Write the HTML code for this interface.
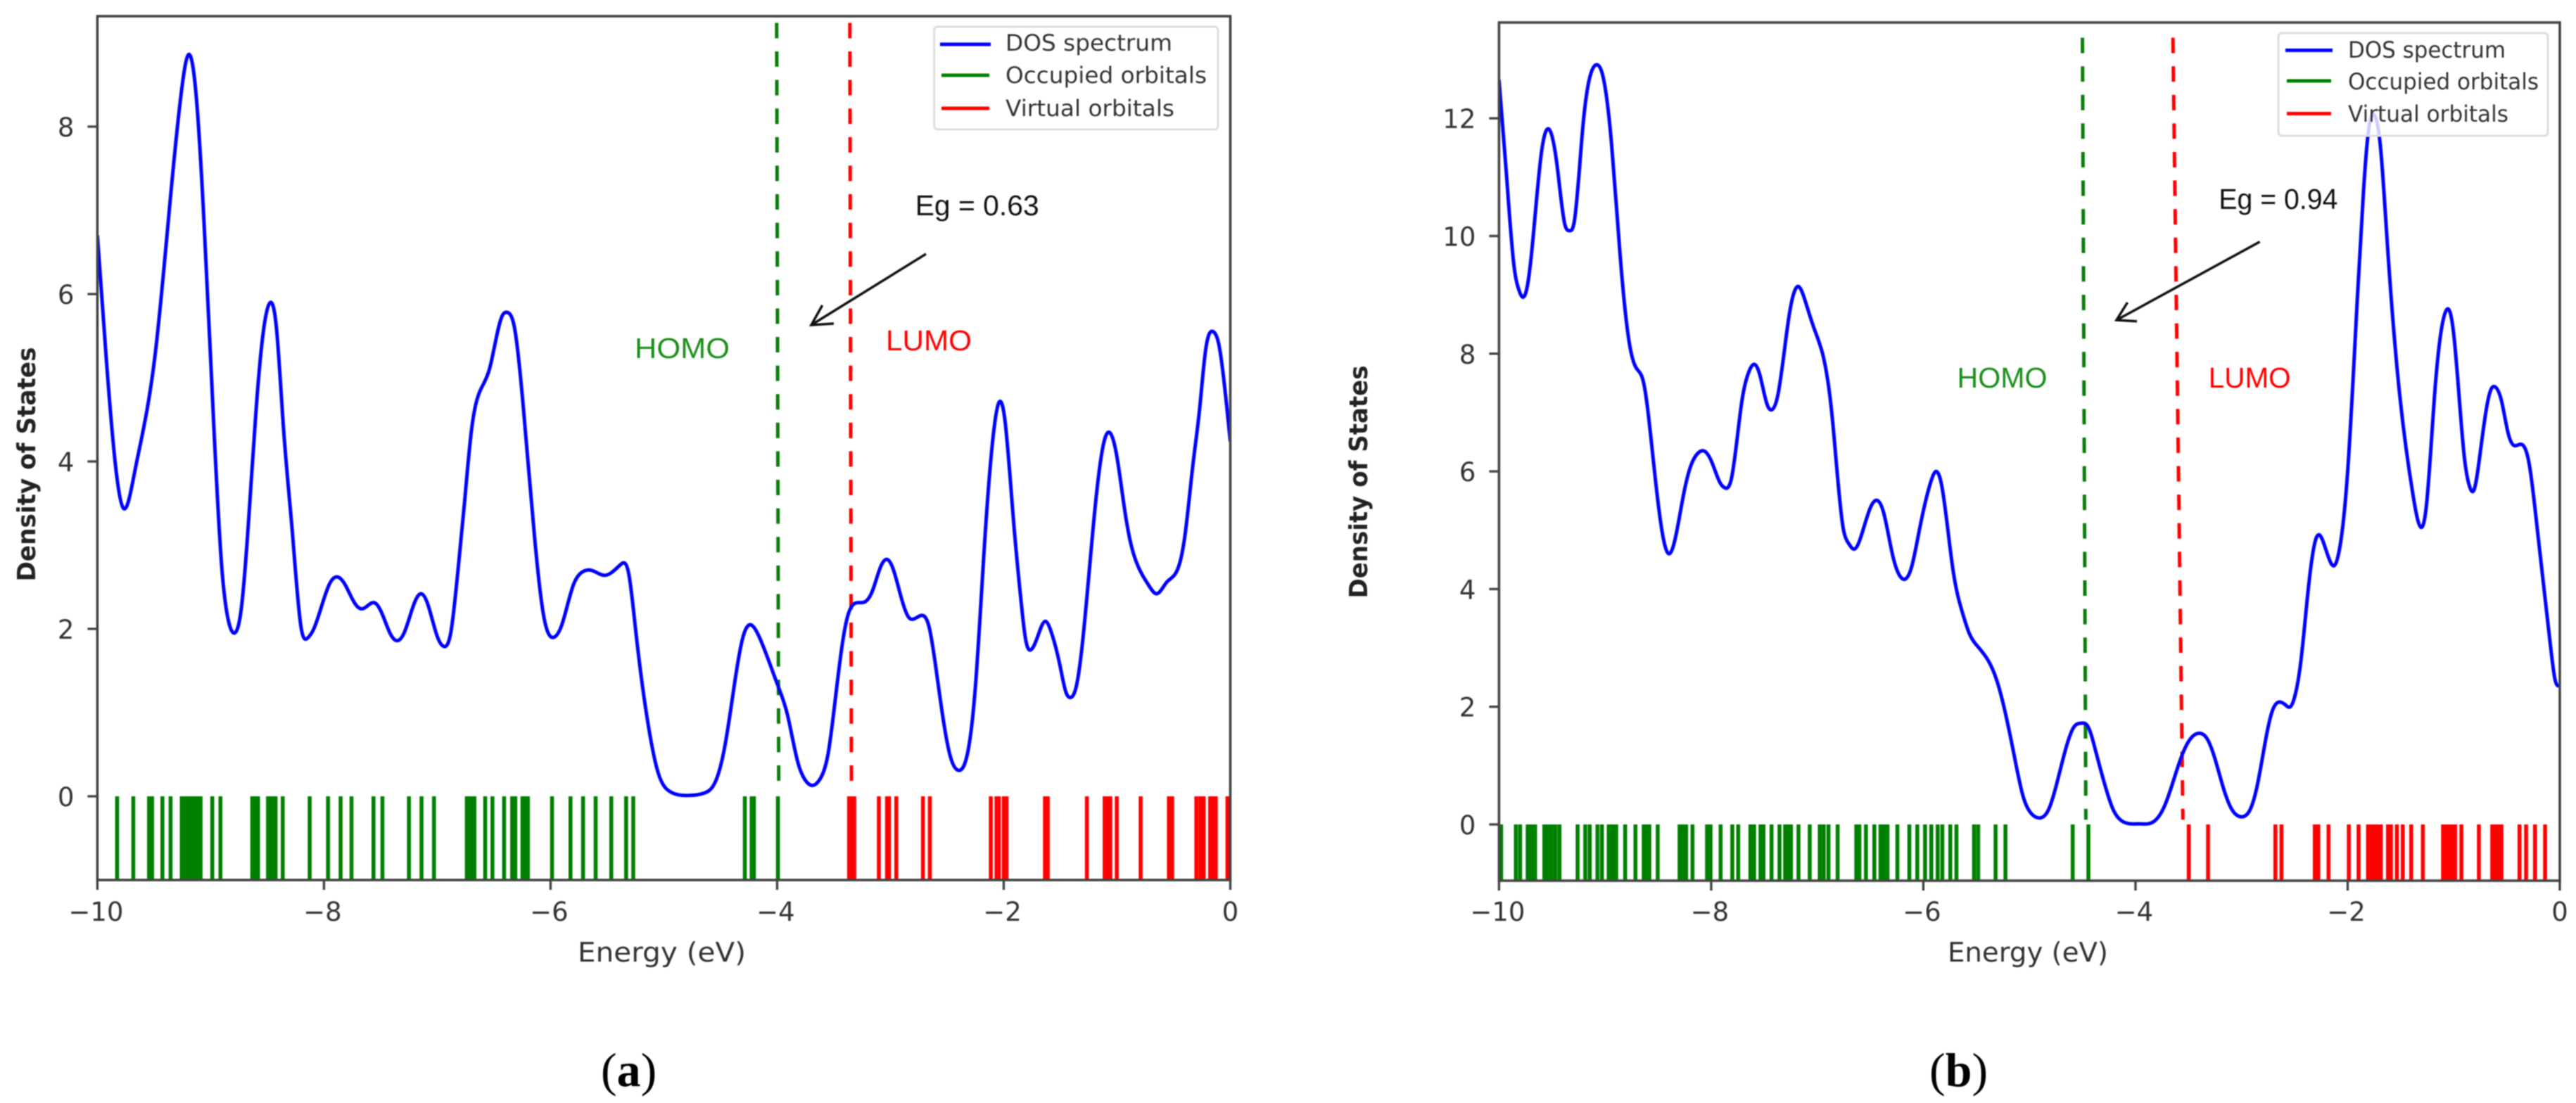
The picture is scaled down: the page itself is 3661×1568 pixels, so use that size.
<!DOCTYPE html>
<html lang="en">
<head>
<meta charset="utf-8">
<title>DOS spectra (a) and (b)</title>
<style>
html,body{margin:0;padding:0;background:#fff;width:3661px;height:1568px;overflow:hidden}
#figure{display:block;filter:blur(0.9px)}
.tick{font-family:"DejaVu Sans","Liberation Sans",sans-serif;font-size:37px;fill:#333}
.axl{font-family:"DejaVu Sans","Liberation Sans",sans-serif;font-size:38px;fill:#333}
.yl{font-family:"DejaVu Sans","Liberation Sans",sans-serif;font-size:36px;font-weight:bold;fill:#222}
.leg{font-family:"DejaVu Sans","Liberation Sans",sans-serif;font-size:32px;fill:#333}
.ann{font-family:"Liberation Sans",sans-serif;font-size:41px}
.cap{font-family:"Liberation Serif",serif;font-size:68px;fill:#000}
</style>
</head>
<body>
<svg id="figure" xmlns="http://www.w3.org/2000/svg" width="3661" height="1568" viewBox="0 0 3661 1568">
<defs>
<clipPath id="clip-a"><rect x="138.4" y="23" width="1610.1" height="1228"/></clipPath>
<clipPath id="clip-b"><rect x="2130.4" y="32" width="1507.6" height="1220"/></clipPath>
</defs>
<rect width="3661" height="1568" fill="#fff"/>
<g id="panel-a"></g>
<g id="panel-b"></g>

<g>
<text class="axl" x="821" y="1367" textLength="239" lengthAdjust="spacingAndGlyphs">Energy (eV)</text>
<text class="yl" transform="translate(50,660) rotate(-90)" text-anchor="middle" textLength="333" lengthAdjust="spacingAndGlyphs">Density of States</text>
<g>
<rect x="1327.7" y="38" width="403.3" height="146" rx="5" fill="#fff" fill-opacity="0.8" stroke="#ddd" stroke-width="3"/>
<line x1="1336" x2="1408" y1="63" y2="63" stroke="#0000ff" stroke-width="5"/>
<line x1="1338" x2="1406" y1="107" y2="107" stroke="#008000" stroke-width="5"/>
<line x1="1338" x2="1406" y1="154" y2="154" stroke="#ff0000" stroke-width="5"/>
<text class="leg" x="1429" y="72" textLength="237" lengthAdjust="spacingAndGlyphs">DOS spectrum</text>
<text class="leg" x="1429" y="118" textLength="286" lengthAdjust="spacingAndGlyphs">Occupied orbitals</text>
<text class="leg" x="1429" y="165" textLength="240" lengthAdjust="spacingAndGlyphs">Virtual orbitals</text>
</g>
<text class="ann" x="1300.7" y="306" fill="#111" textLength="176" lengthAdjust="spacingAndGlyphs">Eg = 0.63</text>
<text class="ann" x="902" y="509" fill="#1a8f1a" textLength="135" lengthAdjust="spacingAndGlyphs">HOMO</text>
<text class="ann" x="1259" y="498" fill="#ff0000" textLength="122" lengthAdjust="spacingAndGlyphs">LUMO</text>
<g fill="none" stroke="#111" stroke-width="3.5">
<line x1="1316" y1="361" x2="1153" y2="462"/>
<polyline points="1168.7,434 1153,462 1185,460"/>
</g>
</g>

<g>
<text class="axl" x="2768" y="1367" textLength="228" lengthAdjust="spacingAndGlyphs">Energy (eV)</text>
<text class="yl" transform="translate(1943,685) rotate(-90)" text-anchor="middle" textLength="331" lengthAdjust="spacingAndGlyphs">Density of States</text>
<g>
<rect x="3238" y="47" width="383" height="146" rx="5" fill="#fff" fill-opacity="0.8" stroke="#ddd" stroke-width="3"/>
<line x1="3248" x2="3315" y1="71.5" y2="71.5" stroke="#0000ff" stroke-width="5"/>
<line x1="3250" x2="3313" y1="115" y2="115" stroke="#008000" stroke-width="5"/>
<line x1="3250" x2="3313" y1="161.5" y2="161.5" stroke="#ff0000" stroke-width="5"/>
<text class="leg" x="3337" y="82" textLength="224" lengthAdjust="spacingAndGlyphs">DOS spectrum</text>
<text class="leg" x="3337" y="127" textLength="271" lengthAdjust="spacingAndGlyphs">Occupied orbitals</text>
<text class="leg" x="3337" y="173" textLength="228" lengthAdjust="spacingAndGlyphs">Virtual orbitals</text>
</g>
<text class="ann" x="3153.4" y="297" fill="#111" textLength="169" lengthAdjust="spacingAndGlyphs">Eg = 0.94</text>
<text class="ann" x="2781.5" y="551" fill="#1a8f1a" textLength="128" lengthAdjust="spacingAndGlyphs">HOMO</text>
<text class="ann" x="3138.7" y="551" fill="#ff0000" textLength="117" lengthAdjust="spacingAndGlyphs">LUMO</text>
<g fill="none" stroke="#111" stroke-width="3.5">
<line x1="3211.6" y1="343.7" x2="3008" y2="455"/>
<polyline points="3023.5,430 3008,455 3037,456.7"/>
</g>
</g>

<text class="cap" x="854" y="1544">(<tspan font-weight="bold">a</tspan>)</text>
<text class="cap" x="2742" y="1544">(<tspan font-weight="bold">b</tspan>)</text>
</svg>

<script>
// ---------- shared axis data ----------
const xTicks = [-10, -8, -6, -4, -2, 0];
const yTicksA = [0, 2, 4, 6, 8];
const yTicksB = [0, 2, 4, 6, 8, 10, 12];

// ---------- panel (a) ----------
const energyA = [-10,-9.92,-9.84,-9.77,-9.67,-9.49,-9.36,-9.26,-9.196,-9.13,-9.06,-8.98,-8.9,-8.85,-8.79,-8.73,-8.66,-8.6,-8.54,-8.48,-8.42,-8.36,-8.28,-8.2,-8.145,-8.09,-7.95,-7.88,-7.81,-7.73,-7.66,-7.55,-7.49,-7.41,-7.35,-7.29,-7.21,-7.14,-7.08,-7,-6.94,-6.88,-6.82,-6.76,-6.7,-6.62,-6.54,-6.43,-6.38,-6.32,-6.24,-6.14,-6.06,-5.97,-5.9,-5.8,-5.72,-5.64,-5.52,-5.38,-5.31,-5.25,-5.13,-5.05,-4.95,-4.79,-4.64,-4.55,-4.46,-4.37,-4.3,-4.22,-4.16,-3.99,-3.91,-3.82,-3.75,-3.69,-3.62,-3.55,-3.49,-3.43,-3.38,-3.32,-3.23,-3.16,-3.09,-3.03,-2.98,-2.91,-2.84,-2.79,-2.73,-2.66,-2.59,-2.47,-2.4,-2.32,-2.25,-2.17,-2.09,-2.04,-1.99,-1.92,-1.84,-1.81,-1.76,-1.7,-1.63,-1.58,-1.5,-1.45,-1.415,-1.36,-1.31,-1.2,-1.11,-1.06,-1,-0.93,-0.88,-0.83,-0.72,-0.65,-0.56,-0.45,-0.4,-0.33,-0.27,-0.22,-0.15,-0.1,-0.06,0];
const dosA = [6.7,5.2,3.95,3.44,3.88,5.28,7.08,8.4,8.86,8.4,6.89,4.64,2.7,2.14,1.95,2.24,3.4,4.6,5.5,5.89,5.6,4.45,3.17,2,1.89,2,2.54,2.62,2.52,2.31,2.24,2.31,2.19,1.93,1.86,1.96,2.28,2.42,2.28,1.91,1.79,1.96,2.66,3.5,4.35,4.85,5.1,5.73,5.78,5.61,4.64,3.08,2.15,1.9,2.05,2.52,2.68,2.7,2.64,2.77,2.66,2,0.79,0.28,0.06,0.01,0.04,0.16,0.61,1.4,1.91,2.04,1.91,1.31,0.98,0.42,0.19,0.13,0.21,0.51,1.12,1.77,2.14,2.3,2.32,2.45,2.73,2.83,2.73,2.4,2.14,2.12,2.16,2.03,1.45,0.47,0.31,0.51,1.31,3,4.34,4.71,4.5,3.4,2.24,1.9,1.75,1.91,2.09,1.96,1.54,1.24,1.18,1.31,1.77,3.36,4.26,4.34,4.05,3.4,3.03,2.8,2.52,2.42,2.56,2.77,3.12,3.96,4.64,5.31,5.55,5.39,5.01,4.24];
const occupiedA = [-9.826,-9.683,-9.544,-9.517,-9.426,-9.354,-9.255,-9.235,-9.216,-9.196,-9.176,-9.156,-9.136,-9.116,-9.089,-8.986,-8.914,-8.633,-8.609,-8.582,-8.494,-8.471,-8.447,-8.427,-8.364,-8.126,-7.964,-7.853,-7.757,-7.563,-7.484,-7.25,-7.139,-7.029,-6.739,-6.716,-6.692,-6.672,-6.577,-6.513,-6.41,-6.339,-6.311,-6.248,-6.224,-6.2,-5.987,-5.824,-5.713,-5.602,-5.464,-5.333,-5.27,-4.285,-4.225,-4.205,-3.993];
const virtualA = [-3.365,-3.34,-3.319,-3.102,-3.03,-3.012,-2.948,-2.713,-2.652,-2.114,-2.064,-2.043,-2,-1.975,-1.636,-1.611,-1.266,-1.109,-1.084,-1.059,-1.002,-0.791,-0.542,-0.513,-0.3,-0.264,-0.235,-0.178,-0.153,-0.128,-0.025,-0.004];
const homoLineA = [-4.004,-3.986];
const lumoLineA = [-3.358,-3.344];
const guideSpanA = [9.24,0.17];

// ---------- panel (b) ----------
const energyB = [-10,-9.93,-9.856,-9.81,-9.776,-9.73,-9.687,-9.6,-9.522,-9.45,-9.38,-9.336,-9.29,-9.21,-9.125,-9.074,-9.03,-8.94,-8.86,-8.765,-8.7,-8.64,-8.555,-8.45,-8.4,-8.34,-8.26,-8.195,-8.13,-8.06,-7.99,-7.92,-7.87,-7.81,-7.71,-7.645,-7.594,-7.54,-7.475,-7.425,-7.37,-7.265,-7.175,-7.116,-7.03,-6.95,-6.86,-6.757,-6.706,-6.65,-6.59,-6.5,-6.44,-6.376,-6.29,-6.22,-6.17,-6.11,-6.04,-5.93,-5.88,-5.827,-5.72,-5.63,-5.57,-5.49,-5.39,-5.31,-5.14,-5.06,-4.98,-4.91,-4.82,-4.74,-4.66,-4.575,-4.514,-4.45,-4.37,-4.29,-4.21,-4.13,-3.966,-3.82,-3.72,-3.62,-3.54,-3.46,-3.4,-3.33,-3.255,-3.17,-3.09,-3,-2.92,-2.85,-2.77,-2.71,-2.645,-2.585,-2.54,-2.495,-2.44,-2.38,-2.3,-2.26,-2.22,-2.16,-2.125,-2.08,-2,-1.91,-1.85,-1.81,-1.75,-1.69,-1.63,-1.51,-1.385,-1.31,-1.26,-1.18,-1.08,-1.04,-1,-0.9,-0.85,-0.81,-0.756,-0.654,-0.605,-0.55,-0.49,-0.44,-0.35,-0.29,-0.21,-0.085,-0.045,0];
const dosB = [12.65,11.05,9.45,9.07,8.96,9.18,9.82,11.42,11.8,11.16,10.2,10.09,10.25,11.85,12.81,12.91,12.78,11.58,9.71,8.11,7.74,7.53,6.35,4.85,4.6,4.85,5.61,6.08,6.3,6.34,6.14,5.82,5.72,5.87,7.2,7.69,7.82,7.63,7.15,7.05,7.31,8.65,9.14,8.91,8.43,8,6.94,5.05,4.78,4.68,4.88,5.38,5.51,5.31,4.58,4.22,4.17,4.38,4.98,5.82,6,5.76,4.32,3.59,3.26,3.03,2.79,2.46,1.14,0.48,0.18,0.11,0.25,0.71,1.27,1.67,1.72,1.67,1.21,0.68,0.25,0.06,0.01,0.06,0.34,0.87,1.27,1.5,1.55,1.47,1.14,0.61,0.25,0.13,0.25,0.68,1.47,1.93,2.08,2.03,2,2.2,2.79,3.85,4.85,4.91,4.75,4.45,4.4,4.65,6,8.9,10.78,11.69,12.06,11.5,9.98,7.31,5.61,5.05,5.38,7.31,8.7,8.73,8.33,6.24,5.74,5.68,6.24,7.37,7.43,7.2,6.67,6.45,6.45,6.14,4.98,2.99,2.46,2.36];
const occupiedB = [-9.98,-9.841,-9.801,-9.73,-9.695,-9.66,-9.573,-9.54,-9.505,-9.469,-9.43,-9.259,-9.187,-9.145,-9.072,-9.03,-8.966,-8.93,-8.895,-8.811,-8.714,-8.636,-8.61,-8.583,-8.504,-8.298,-8.265,-8.236,-8.176,-8.039,-8.006,-7.911,-7.801,-7.745,-7.63,-7.595,-7.535,-7.507,-7.431,-7.356,-7.303,-7.277,-7.248,-7.177,-7.071,-6.976,-6.939,-6.894,-6.808,-6.632,-6.603,-6.541,-6.462,-6.404,-6.371,-6.338,-6.245,-6.132,-6.057,-5.984,-5.925,-5.865,-5.821,-5.746,-5.688,-5.522,-5.483,-5.319,-5.226,-4.592,-4.444];
const virtualB = [-3.498,-3.316,-2.681,-2.624,-2.31,-2.277,-2.18,-1.989,-1.897,-1.808,-1.775,-1.742,-1.709,-1.687,-1.62,-1.592,-1.536,-1.481,-1.401,-1.291,-1.101,-1.068,-1.035,-1.001,-0.986,-0.928,-0.763,-0.637,-0.604,-0.57,-0.55,-0.38,-0.318,-0.234,-0.139];
const homoLineB = [-4.5,-4.468];
const lumoLineB = [-3.647,-3.553];
const guideSpanB = [13.37,0.08];

const SVG_NS = 'http://www.w3.org/2000/svg';
function mk(parent, tag, attrs, text) {
  const el = document.createElementNS(SVG_NS, tag);
  for (const k in attrs) el.setAttribute(k, attrs[k]);
  if (text !== undefined) el.textContent = text;
  parent.appendChild(el);
  return el;
}
function fmt(v) { return v < 0 ? '\u2212' + Math.abs(v) : String(v); }

// Natural cubic spline through the read points, emitted as Bezier segments.
function curvePath(xs, ys, sx, sy) {
  const n = xs.length;
  const M = new Array(n).fill(0), c = new Array(n).fill(0), r = new Array(n).fill(0);
  for (let i = 1; i < n - 1; i++) {
    const h0 = xs[i] - xs[i - 1], h1 = xs[i + 1] - xs[i];
    const b = 2 * (h0 + h1) - h0 * c[i - 1];
    c[i] = h1 / b;
    r[i] = (6 * ((ys[i + 1] - ys[i]) / h1 - (ys[i] - ys[i - 1]) / h0) - h0 * r[i - 1]) / b;
  }
  for (let i = n - 2; i > 0; i--) M[i] = r[i] - c[i] * M[i + 1];
  let d = 'M' + sx(xs[0]).toFixed(2) + ' ' + sy(ys[0]).toFixed(2);
  for (let i = 0; i < n - 1; i++) {
    const h = xs[i + 1] - xs[i], dy = (ys[i + 1] - ys[i]) / h;
    const m0 = dy - h * (2 * M[i] + M[i + 1]) / 6;
    const m1 = dy + h * (M[i] + 2 * M[i + 1]) / 6;
    const c1x = xs[i] + h / 3, c1y = ys[i] + m0 * h / 3;
    const c2x = xs[i + 1] - h / 3, c2y = ys[i + 1] - m1 * h / 3;
    d += 'C' + sx(c1x).toFixed(2) + ' ' + sy(c1y).toFixed(2) + ' ' + sx(c2x).toFixed(2) + ' ' + sy(c2y).toFixed(2) + ' ' + sx(xs[i + 1]).toFixed(2) + ' ' + sy(ys[i + 1]).toFixed(2);
  }
  return d;
}

function drawPanel(p) {
  const root = document.getElementById(p.id);
  const sx = e => p.left + (e + 10) * (p.right - p.left) / 10;
  const sy = v => p.zero - v * p.unit;

  const occ = mk(root, 'g', {stroke: '#008000', 'stroke-width': 5.6, 'clip-path': p.clip});
  
  
  p.occupied.forEach(e => {
    const s = mk(occ, 'line', {x1: sx(e), x2: sx(e), y1: sy(0), y2: p.bottom});
    
    
  });

  const vir = mk(root, 'g', {stroke: '#ff0000', 'stroke-width': 5.6, 'clip-path': p.clip});
  
  
  p.virtual.forEach(e => {
    const s = mk(vir, 'line', {x1: sx(e), x2: sx(e), y1: sy(0), y2: p.bottom});
    
    
  });

  const homo = mk(root, 'line', {x1: sx(p.homo[0]), x2: sx(p.homo[1]), y1: sy(p.span[0]), y2: sy(p.span[1]), stroke: '#0a7d0a', 'stroke-width': 5, 'stroke-dasharray': '22 18.6'});
  
  
  const lumo = mk(root, 'line', {x1: sx(p.lumo[0]), x2: sx(p.lumo[1]), y1: sy(p.span[0]), y2: sy(p.span[1]), stroke: '#ff0000', 'stroke-width': 5, 'stroke-dasharray': '22 18.6'});
  
  

  const curve = mk(root, 'path', {d: curvePath(p.energy, p.dos, sx, sy), fill: 'none', stroke: '#0000ff', 'stroke-width': 5, 'stroke-linejoin': 'round', 'clip-path': p.clip});
  
  

  const frame = mk(root, 'rect', {x: p.left, y: p.top, width: p.right - p.left, height: p.bottom - p.top, fill: 'none', stroke: '#444', 'stroke-width': 3.6});
  
  

  xTicks.forEach(t => {
    const m = mk(root, 'line', {x1: sx(t), x2: sx(t), y1: p.bottom, y2: p.bottom + 14, stroke: '#444', 'stroke-width': 3.4});
    
    
    const l = mk(root, 'text', {class: 'tick', x: sx(t) - (t < 0 ? 2 : 0), y: 1309, 'text-anchor': 'middle'}, fmt(t));
    
    
  });
  p.yTicks.forEach(t => {
    const m = mk(root, 'line', {x1: p.left - 14, x2: p.left, y1: sy(t), y2: sy(t), stroke: '#444', 'stroke-width': 3.4});
    
    
    const l = mk(root, 'text', {class: 'tick', x: p.left - 33, y: sy(t) + 14, 'text-anchor': 'end'}, fmt(t));
    
    
  });
}

drawPanel({id: 'panel-a', clip: 'url(#clip-a)', left: 138.4, right: 1748.5, top: 23, bottom: 1251, zero: 1132, unit: 119,
  energy: energyA, dos: dosA, occupied: occupiedA, virtual: virtualA, homo: homoLineA, lumo: lumoLineA, span: guideSpanA, yTicks: yTicksA});
drawPanel({id: 'panel-b', clip: 'url(#clip-b)', left: 2130.4, right: 3638, top: 32, bottom: 1252, zero: 1172, unit: 83.65,
  energy: energyB, dos: dosB, occupied: occupiedB, virtual: virtualB, homo: homoLineB, lumo: lumoLineB, span: guideSpanB, yTicks: yTicksB});
</script>
</body>
</html>
